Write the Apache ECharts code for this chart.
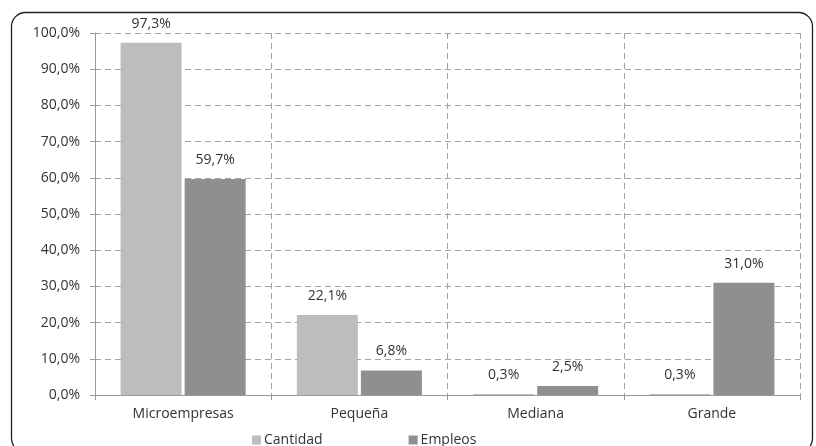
<!DOCTYPE html>
<html><head><meta charset="utf-8">
<script src="https://cdn.jsdelivr.net/npm/echarts@6/dist/echarts.min.js"></script>
<style>html,body{margin:0;padding:0;background:#fff}#c{width:816px;height:446px}</style>
</head><body><div id="c"></div>
<script>
const categories = ['Microempresas', 'Pequeña', 'Mediana', 'Grande'];
const cantidad = [97.3, 22.1, 0.3, 0.3];
const empleos = [59.7, 6.8, 2.5, 31.0];
const seriesNames = ['Cantidad', 'Empleos'];

const fmt = v => v.toFixed(1).replace('.', ',') + '%';
const FONT = '"Open Sans", "Noto Sans", sans-serif';
const chart = echarts.init(document.getElementById('c'));
chart.setOption({
  animation: false,
  textStyle: { fontFamily: FONT },
  graphic: [{
    type: 'rect', left: 9, top: 10,
    shape: { width: 801, height: 440, r: 14 },
    style: { fill: 'none', stroke: '#222', lineWidth: 1.3 }
  }],
  legend: {
    top: 428, left: 247, itemWidth: 9, itemHeight: 9, itemGap: 86,
    icon: 'rect',
    textStyle: { fontSize: 14, color: '#333', fontFamily: FONT, padding: [0, 0, 0, -2] },
    data: seriesNames
  },
  grid: { left: 95, right: 16, top: 33, bottom: 51 },
  xAxis: {
    type: 'category', data: categories,
    axisLine: { lineStyle: { color: '#9a9a9a', width: 1 } },
    axisTick: { show: true, length: 5, lineStyle: { color: '#9a9a9a' } },
    axisLabel: { fontSize: 14, color: '#333', margin: 12, fontFamily: FONT },
    splitLine: { show: true, lineStyle: { type: [6, 4], color: '#a3a3a3' } }
  },
  yAxis: {
    type: 'value', min: 0, max: 100, interval: 10,
    axisLine: { show: true, lineStyle: { color: '#9a9a9a' } },
    axisTick: { show: true, length: 5, lineStyle: { color: '#9a9a9a' } },
    axisLabel: { fontSize: 14, color: '#333', margin: 15, fontFamily: FONT, formatter: v => fmt(v) },
    splitLine: { show: true, lineStyle: { type: [6, 4], color: '#a3a3a3' } }
  },
  series: [
    { name: seriesNames[0], type: 'bar', data: cantidad, barWidth: 61, barGap: '5%',
      itemStyle: { color: '#bdbdc0' },
      label: { show: true, position: 'top', distance: 12, fontSize: 14, color: '#333', fontFamily: FONT, formatter: p => fmt(p.value) } },
    { name: seriesNames[1], type: 'bar', data: empleos, barWidth: 61,
      itemStyle: { color: '#8f8f92' },
      label: { show: true, position: 'top', distance: 12, fontSize: 14, color: '#333', fontFamily: FONT, formatter: p => fmt(p.value) } }
  ]
});
</script></body></html>
